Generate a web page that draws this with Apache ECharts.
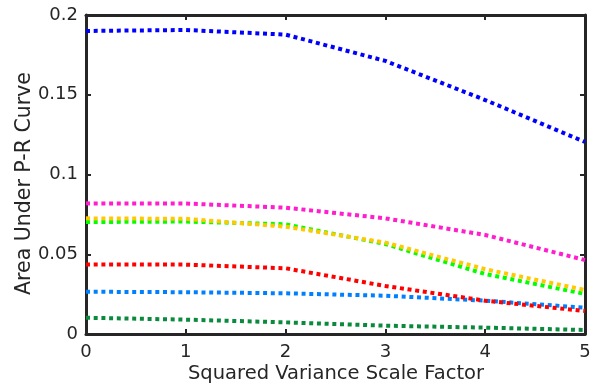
<!DOCTYPE html>
<html>
<head>
<meta charset="utf-8">
<script src="https://cdn.jsdelivr.net/npm/echarts@6/dist/echarts.min.js"></script>
<style>html,body{margin:0;padding:0;background:#fff;}#c{width:596px;height:385px;}</style>
</head>
<body>
<div id="c"></div>
<script>
const xValues = [0, 1, 2, 3, 4, 5];
const yTicks = [0, 0.05, 0.1, 0.15, 0.2];
const seriesNames = ['blue', 'magenta', 'yellow', 'green', 'red', 'lightblue', 'darkgreen'];
const blueVals      = [0.190, 0.1906, 0.1877, 0.1712, 0.1467, 0.1204];
const magentaVals   = [0.0819, 0.0818, 0.0792, 0.0725, 0.0621, 0.0464];
const yellowVals    = [0.0725, 0.0722, 0.0673, 0.0573, 0.0406, 0.0276];
const greenVals     = [0.0702, 0.0705, 0.0688, 0.0564, 0.0376, 0.0251];
const redVals       = [0.0435, 0.0435, 0.0412, 0.0301, 0.0209, 0.0144];
const lightBlueVals = [0.0265, 0.0262, 0.0255, 0.0240, 0.0209, 0.0165];
const darkGreenVals = [0.0102, 0.0090, 0.0073, 0.0052, 0.0040, 0.0025];
const colors = ['#0000ff', '#ff1dce', '#ffc800', '#00ff00', '#ff0000', '#0080ff', '#0a8a3c'];
const allVals = [blueVals, magentaVals, yellowVals, greenVals, redVals, lightBlueVals, darkGreenVals];

const axisColor = '#262626';
const chart = echarts.init(document.getElementById('c'), null, {renderer: 'canvas'});
const fontFamily = 'DejaVu Sans';
const series = allVals.map((vals, i) => ({
  name: seriesNames[i],
  type: 'line',
  data: xValues.map((x, j) => [x, vals[j]]),
  symbol: 'none',
  lineStyle: {color: colors[i], width: 4, type: [4, 3.7], cap: 'butt'},
  z: 10 - i,
  animation: false
}));

function axisBase(extra) {
  return Object.assign({
    axisLine: {show: true, onZero: false, lineStyle: {color: axisColor, width: 3}},
    axisTick: {show: true, inside: true, length: 5, lineStyle: {color: axisColor, width: 2}},
    splitLine: {show: false}
  }, extra);
}

chart.setOption({
  backgroundColor: '#fff',
  animation: false,
  grid: {left: 86, right: 11, top: 15, bottom: 51, containLabel: false},
  xAxis: [
    axisBase({type: 'value', min: 0, max: 5, interval: 1, position: 'bottom',
      axisLabel: {color: axisColor, fontSize: 18, fontFamily: fontFamily, margin: 9}}),
    axisBase({type: 'value', min: 0, max: 5, interval: 1, position: 'top', axisLabel: {show: false}})
  ],
  yAxis: [
    axisBase({type: 'value', min: 0, max: 0.2, interval: 0.05, position: 'left',
      axisLabel: {color: axisColor, fontSize: 18, fontFamily: fontFamily, margin: 8, padding: [5, 0, 0, 0],
        formatter: v => { const t = yTicks.find(k => Math.abs(k - v) < 1e-9); return String(t !== undefined ? t : v); }}}),
    axisBase({type: 'value', min: 0, max: 0.2, interval: 0.05, position: 'right', axisLabel: {show: false}})
  ],
  graphic: [{
    type: 'text', x: 336, y: 374,
    style: {text: 'Squared Variance Scale Factor', fill: axisColor, fontSize: 19.5, fontFamily: fontFamily,
      align: 'center', verticalAlign: 'middle'}
  }, {
    type: 'text', x: 25, y: 183.5, rotation: Math.PI / 2,
    style: {text: 'Area Under P-R Curve', fill: axisColor, fontSize: 20.5, fontFamily: fontFamily,
      align: 'center', verticalAlign: 'middle'}
  }],
  series: series
});
</script>
</body>
</html>
